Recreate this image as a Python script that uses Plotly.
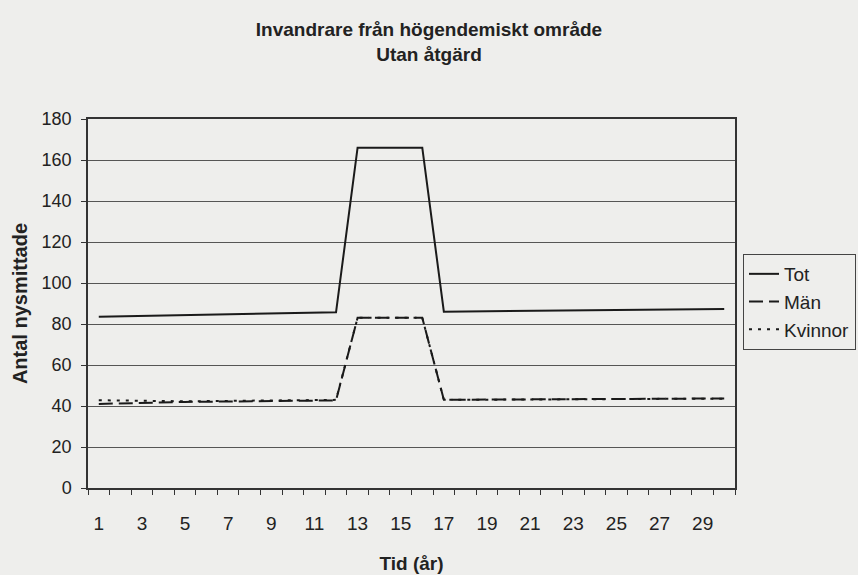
import plotly.graph_objects as go

years = list(range(1, 31))
tot = [83.5, 83.7, 83.9, 84.1, 84.3, 84.5, 84.7, 84.9, 85.1, 85.3, 85.5, 85.7,
       166, 166, 166, 166,
       86.0, 86.1, 86.2, 86.3, 86.4, 86.5, 86.6, 86.7, 86.8, 86.9, 87.0, 87.1, 87.2, 87.3]
man = [41.0, 41.3, 41.6, 41.8, 42.0, 42.1, 42.2, 42.3, 42.4, 42.5, 42.6, 42.7,
       83, 83, 83, 83,
       43.0, 43.1, 43.1, 43.2, 43.2, 43.3, 43.3, 43.4, 43.4, 43.5, 43.5, 43.6, 43.6, 43.7]
kvinnor = [42.8, 42.6, 42.4, 42.3, 42.3, 42.4, 42.5, 42.6, 42.7, 42.8, 42.9, 43.0,
           83, 83, 83, 83,
           43.0, 43.0, 43.1, 43.1, 43.2, 43.2, 43.3, 43.3, 43.4, 43.4, 43.5, 43.5, 43.6, 43.6]
series_names = ["Tot", "Män", "Kvinnor"]
x_labels = [str(v) for v in range(1, 30, 2)]

FONT = "Liberation Sans, Arial, sans-serif"
BG = "#eeeeec"
INK = "#222222"

fig = go.Figure()
fig.add_trace(go.Scatter(x=years, y=tot, name=series_names[0], mode="lines",
                         line=dict(color="#1a1a1a", width=2)))
fig.add_trace(go.Scatter(x=years, y=man, name=series_names[1], mode="lines",
                         line=dict(color="#1a1a1a", width=2, dash="14px,6px")))
fig.add_trace(go.Scatter(x=years, y=kvinnor, name=series_names[2], mode="lines",
                         line=dict(color="#1a1a1a", width=2, dash="3px,6px")))

fig.update_layout(
    width=858, height=575,
    paper_bgcolor=BG, plot_bgcolor=BG,
    margin=dict(l=88, r=123, t=119, b=87, autoexpand=False),
    font=dict(family=FONT, size=18, color=INK),
    title=dict(text="<b>Invandrare från högendemiskt område<br>Utan åtgärd</b>",
               x=0.5, xanchor="center", y=1 - 36 / 575, yanchor="top",
               font=dict(family=FONT, size=19, color=INK)),
    showlegend=True,
    legend=dict(xref="container", yref="container",
                x=743 / 858, xanchor="left", y=1 - 302 / 575, yanchor="middle",
                bgcolor=BG, bordercolor="#444444", borderwidth=1,
                font=dict(family=FONT, size=19, color=INK),
                itemwidth=30),
)

fig.update_xaxes(
    range=[0.5, 30.5], tickmode="array",
    tickvals=list(range(1, 30, 2)), ticktext=x_labels,
    ticks="", showgrid=False, zeroline=False,
    showline=True, linecolor="#333333", linewidth=1.5, mirror=True,
    minor=dict(tickmode="array", tickvals=[v + 0.5 for v in range(0, 31)],
               ticks="outside", ticklen=5, tickcolor="#333333", showgrid=False),
    tickfont=dict(size=19), ticklabelstandoff=17,
    title=dict(text="<b>Tid (år)</b>", font=dict(size=19), standoff=24),
)
fig.update_yaxes(
    range=[0, 180], tickmode="linear", tick0=0, dtick=20,
    ticks="outside", ticklen=5, tickcolor="#333333",
    showgrid=True, gridcolor="#555555", gridwidth=1, zeroline=False,
    showline=True, linecolor="#333333", linewidth=1.5, mirror=True,
    tickfont=dict(size=18), ticklabelstandoff=6,
    title=dict(text="<b>Antal nysmittade</b>", font=dict(size=20), standoff=9),
)

fig.write_html("out.html", config={"displayModeBar": False},
               post_script="document.body.style.margin='0';")
